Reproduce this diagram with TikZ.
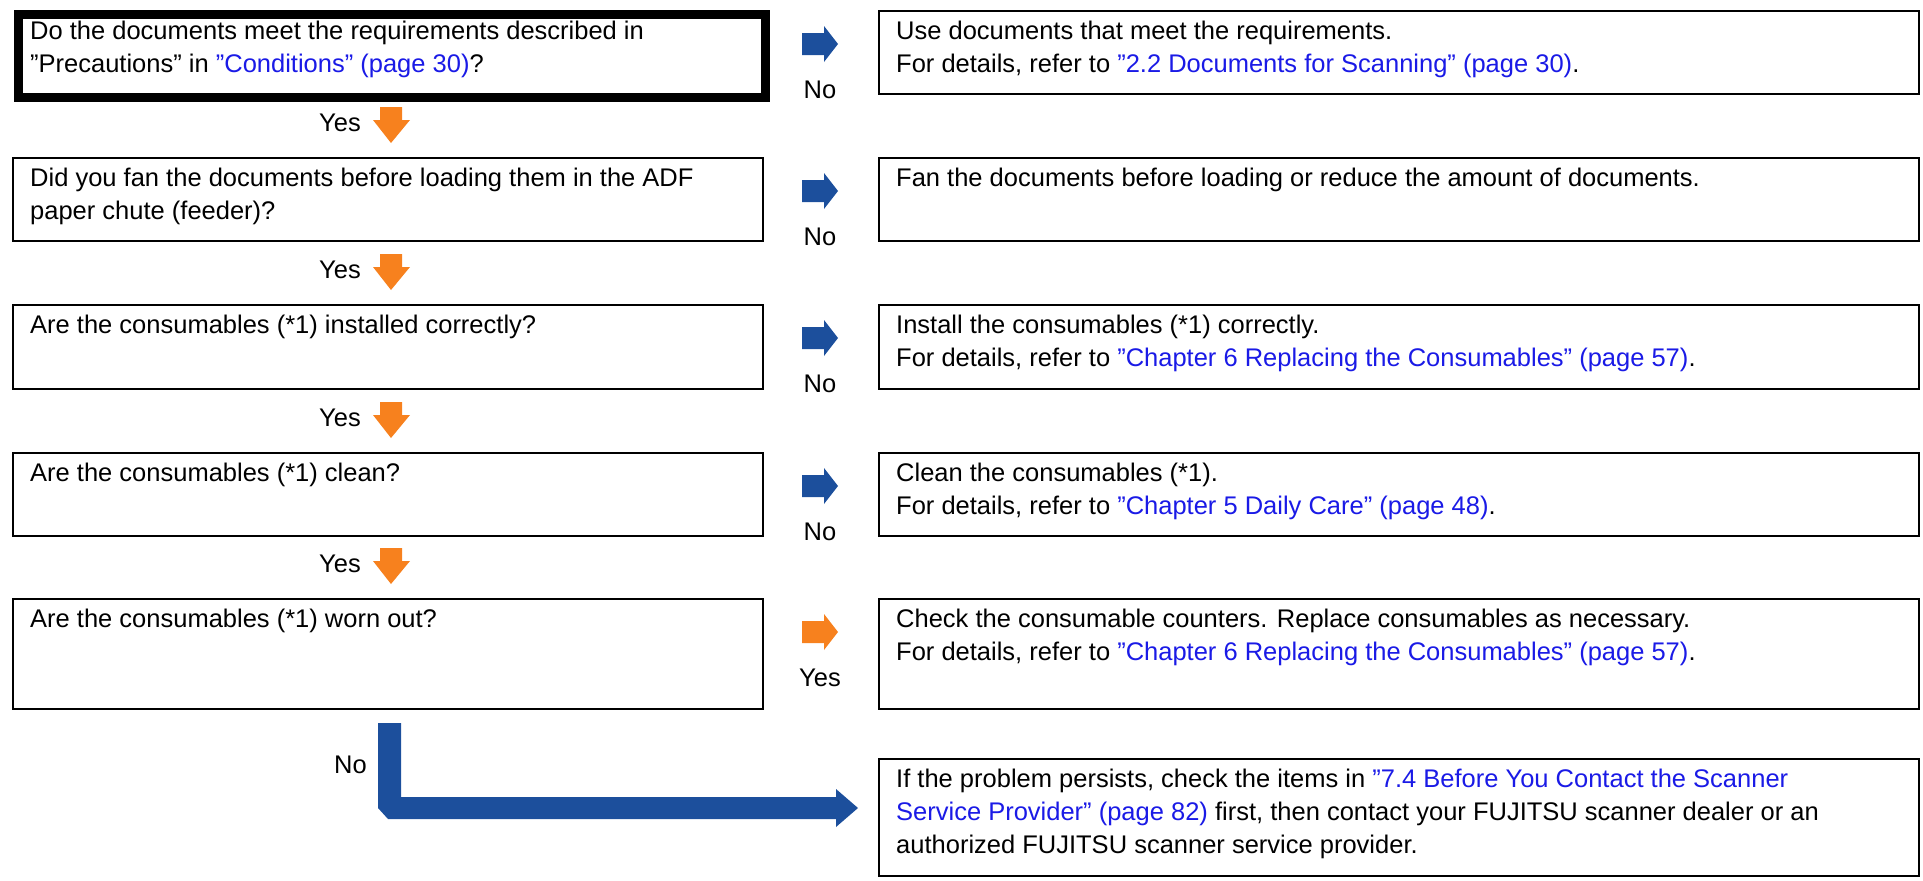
\documentclass[tikz,border=0pt]{standalone}
\usepackage{fontspec}
\setmainfont{Liberation Sans}
\definecolor{lk}{HTML}{1A1AE6}
\definecolor{bl}{HTML}{1C4F9C}
\definecolor{og}{HTML}{F7811E}
\newcommand{\lnk}[1]{\textcolor{lk}{#1}}
\newcommand{\dq}{\symbol{34}}
\begin{document}
\begin{tikzpicture}[x=1pt,y=-1pt,
  box/.style={draw,line width=2pt,anchor=north west,inner sep=0pt},
  txt/.style={anchor=north west,align=left,inner sep=0pt,font=\fontsize{25.5}{33}\selectfont},
  lab/.style={font=\fontsize{25.5}{28}\selectfont,inner sep=0pt}]
\useasboundingbox (0,0) rectangle (1923,881);
% left boxes
\node[draw,line width=9pt,anchor=north west,inner sep=0pt,minimum width=747pt,minimum height=83pt] (q1) at (13.5,9.5) {};
\foreach \n/\t/\b in {q2/157/240,q3/304/388,q4/452/535,q5/598/708}{
  \node[box,minimum width=750pt,minimum height={\b-\t}] (\n) at (12,\t) {};}
\foreach \n/\t/\b in {a1/10/93,a2/157/240,a3/304/388,a4/452/535,a5/598/708,a6/758/875}{
  \node[box,minimum width=1040pt,minimum height={\b-\t}] (\n) at (878,\t) {};}
% texts
\node[txt] (tq1) at (30,21) {Do the documents meet the requirements described in\\\dq Precautions\dq{} in \lnk{\dq Conditions\dq{} (page 30)}?};
\node[txt] (tq2) at (30,168) {Did you fan the documents before loading them in the ADF\\paper chute (feeder)?};
\node[txt] (tq3) at (30,315) {Are the consumables (*1) installed correctly?};
\node[txt] (tq4) at (30,463) {Are the consumables (*1) clean?};
\node[txt] (tq5) at (30,609) {Are the consumables (*1) worn out?};
\node[txt] (ta1) at (896,21) {Use documents that meet the requirements.\\For details, refer to \lnk{\dq 2.2 Documents for Scanning\dq{} (page 30)}.};
\node[txt] (ta2) at (896,168) {Fan the documents before loading or reduce the amount of documents.};
\node[txt] (ta3) at (896,315) {Install the consumables (*1) correctly.\\For details, refer to \lnk{\dq Chapter 6 Replacing the Consumables\dq{} (page 57)}.};
\node[txt] (ta4) at (896,463) {Clean the consumables (*1).\\For details, refer to \lnk{\dq Chapter 5 Daily Care\dq{} (page 48)}.};
\node[txt] (ta5) at (896,609) {Check the consumable counters. Replace consumables as necessary.\\For details, refer to \lnk{\dq Chapter 6 Replacing the Consumables\dq{} (page 57)}.};
\node[txt] (ta6) at (896,769) {If the problem persists, check the items in \lnk{\dq 7.4 Before You Contact the Scanner}\\\lnk{Service Provider\dq{} (page 82)} first, then contact your FUJITSU scanner dealer or an\\authorized FUJITSU scanner service provider.};
% right arrows
\foreach \y/\c/\l in {44/bl/No,191/bl/No,338/bl/No,486/bl/No,632/og/Yes}{
  \fill[\c] (802,\y-11) -- (824,\y-11) -- (824,\y-18) -- (838,\y) -- (824,\y+18) -- (824,\y+11) -- (802,\y+11) -- cycle;
  \node[lab] at (820,\y+46) {\l};}
% down arrows (tip y)
\foreach \y in {143,290,438,584}{
  \fill[og] (380,\y-36) -- (402,\y-36) -- (402,\y-23) -- (410,\y-23) -- (391,\y) -- (373,\y-23) -- (380,\y-23) -- cycle;
  \node[lab,anchor=east] at (361,\y-20) {Yes};}
% elbow
\fill[bl] (378,723) -- (401,723) -- (401,797) -- (836,797) -- (836,789) -- (858,808) -- (836,827) -- (836,819) -- (388,819) -- (378,808) -- cycle;
\node[lab,anchor=east] (no6) at (367,765) {No};
\end{tikzpicture}
\end{document}
